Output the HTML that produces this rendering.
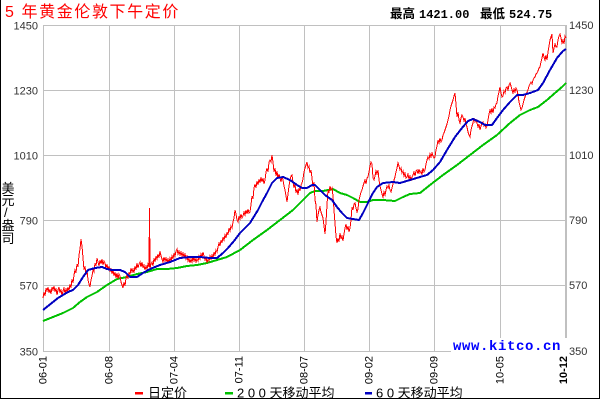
<!DOCTYPE html>
<html><head><meta charset="utf-8"><style>
html,body{margin:0;padding:0;background:#fff;}
svg{display:block;}
text{font-family:"Liberation Sans","WenQuanYi Zen Hei","Noto Sans CJK SC",sans-serif;}
.mono{font-family:"Liberation Mono","WenQuanYi Zen Hei",monospace;}
</style></head><body>
<svg width="600" height="400" viewBox="0 0 600 400" xmlns="http://www.w3.org/2000/svg">
<rect x="0" y="0" width="600" height="400" fill="#fff"/>
<!-- frame -->
<g stroke="#000" stroke-width="1" shape-rendering="crispEdges">
<line x1="0.5" y1="0" x2="0.5" y2="399"/>
<line x1="599.5" y1="0" x2="599.5" y2="399"/>
<line x1="0" y1="398.5" x2="600" y2="398.5"/>
</g>
<!-- title -->
<text x="5" y="17" font-size="16" fill="#ff0000" letter-spacing="1.6">5 年黄金伦敦下午定价</text>
<text x="390" y="18" font-size="12.5" font-weight="bold" fill="#000">最高</text>
<text x="419" y="18" font-size="12" font-weight="bold" class="mono" fill="#000">1421.00</text>
<text x="480" y="18" font-size="12.5" font-weight="bold" fill="#000">最低</text>
<text x="509" y="18" font-size="12" font-weight="bold" class="mono" fill="#000">524.75</text>
<!-- grid -->
<g stroke="#c0c0c0" stroke-width="1" shape-rendering="crispEdges" fill="none">
<line x1="43" y1="25.5" x2="566" y2="25.5"/>
<line x1="43" y1="90.5" x2="566" y2="90.5"/>
<line x1="43" y1="155.5" x2="566" y2="155.5"/>
<line x1="43" y1="220.5" x2="566" y2="220.5"/>
<line x1="43" y1="285.5" x2="566" y2="285.5"/>
<line x1="43" y1="351.5" x2="566" y2="351.5"/>
<line x1="43.5" y1="25" x2="43.5" y2="352"/>
<line x1="109.5" y1="25" x2="109.5" y2="352"/>
<line x1="174.5" y1="25" x2="174.5" y2="352"/>
<line x1="239.5" y1="25" x2="239.5" y2="352"/>
<line x1="304.5" y1="25" x2="304.5" y2="352"/>
<line x1="369.5" y1="25" x2="369.5" y2="352"/>
<line x1="434.5" y1="25" x2="434.5" y2="352"/>
<line x1="500.5" y1="25" x2="500.5" y2="352"/>
<line x1="566" y1="25" x2="566" y2="352" stroke-width="2"/>
</g>
<!-- y labels -->
<g font-size="11" fill="#333">
<text x="38" y="29.5" text-anchor="end">1450</text>
<text x="38" y="94.5" text-anchor="end">1230</text>
<text x="38" y="159.5" text-anchor="end">1010</text>
<text x="38" y="224.5" text-anchor="end">790</text>
<text x="38" y="289.5" text-anchor="end">570</text>
<text x="38" y="355.5" text-anchor="end">350</text>
<text x="569" y="29" >1450</text>
<text x="569" y="94">1230</text>
<text x="569" y="159">1010</text>
<text x="569" y="224">790</text>
<text x="569" y="289">570</text>
<text x="569" y="355">350</text>
</g>
<!-- y title -->
<g font-size="13" fill="#000">
<text x="1.5" y="193">美</text>
<text x="1.5" y="205">元</text>
<text x="4" y="217">/</text>
<text x="1.5" y="230">盎</text>
<text x="1.5" y="243">司</text>
</g>
<!-- x labels -->
<g font-size="11" fill="#000">
<text transform="translate(46.5,356) rotate(-90)" text-anchor="end">06-01</text>
<text transform="translate(112.5,356) rotate(-90)" text-anchor="end">06-08</text>
<text transform="translate(177.5,356) rotate(-90)" text-anchor="end">07-04</text>
<text transform="translate(242.5,356) rotate(-90)" text-anchor="end">07-11</text>
<text transform="translate(307.5,356) rotate(-90)" text-anchor="end">08-07</text>
<text transform="translate(372.5,356) rotate(-90)" text-anchor="end">09-02</text>
<text transform="translate(437.5,356) rotate(-90)" text-anchor="end">09-09</text>
<text transform="translate(503.5,356) rotate(-90)" text-anchor="end">10-05</text>
<text transform="translate(567,356) rotate(-90)" text-anchor="end" font-weight="bold">10-12</text>
</g>
<!-- series -->
<polyline fill="none" stroke="#00c000" stroke-width="2" shape-rendering="crispEdges" points="43,321 53,317 63,313 73,308 80,302 87,297 97,292 107,285 117,279 127,277 137,274 147,272 157,269 167,269 177,268 187,266 197,265 207,263 217,260 227,257 240,250 253,240 267,230 280,220 293,210 303,200 310,193 315,191 323,191 333,189 340,193 347,195 353,198 360,202 367,202 373,200 383,200 395,201 403,197 410,194 420,193 430,185 443,175 457,165 470,155 483,145 497,135 510,123 520,115 530,110 538,107 547,100 555,93 562,87 566,83"/>
<polyline fill="none" stroke="#ff0000" stroke-width="1" shape-rendering="crispEdges" points="43,298 44,292 45,296 46,288 47,291 48,287 49,293 50,289 51,294 52,287 53,290 54,286 55,292 56,288 57,295 58,290 59,287 60,293 61,289 62,296 63,291 64,288 65,293 66,289 67,292 68,287 69,291 70,284 71,288 72,279 73,283 74,275 75,270 76,273 77,264 78,267 79,255 80,249 81,239 82,246 83,258 84,270 85,266 86,275 87,270 88,280 89,284 90,287 91,280 92,276 93,270 94,272 95,263 96,266 97,258 98,262 99,266 100,260 101,264 102,259 103,265 104,261 105,263 106,268 107,264 108,270 109,266 110,272 111,268 112,274 113,270 114,276 115,272 116,278 117,273 118,279 119,274 120,276 121,282 122,285 123,288 124,282 125,286 126,278 127,275 128,279 129,272 130,275 131,268 132,272 133,269 134,273 135,266 136,270 137,263 138,268 139,264 140,262 141,267 142,262 143,268 144,265 145,270 146,266 147,269 148,264 149,267 149.5,208 150,268 151,264 152,262 153,266 154,258 155,262 156,256 157,259 158,254 159,258 160,251 161,256 162,259 163,262 164,257 165,261 166,258 167,262 168,259 169,263 170,258 171,261 172,256 173,259 174,253 175,256 176,251 177,249 178,254 179,251 180,255 181,252 182,256 183,253 184,257 185,254 186,259 187,256 188,261 189,258 190,263 191,259 192,262 193,257 194,261 195,258 196,262 197,259 198,261 199,256 200,259 201,254 202,257 203,252 204,256 205,260 206,257 207,263 208,259 209,261 210,256 211,259 212,255 213,258 214,252 215,255 216,250 217,252 218,247 219,243 220,246 221,240 222,243 223,237 224,240 225,235 226,238 227,232 228,235 229,228 230,231 231,226 232,228 233,222 234,218 235,210 236,214 237,220 238,222 239,216 240,219 241,214 242,218 243,216 244,212 245,215 246,210 247,214 248,209 249,213 250,212 251,205 252,196 253,199 254,188 255,184 256,188 257,181 258,185 259,179 260,183 261,177 262,182 263,178 264,184 265,180 266,172 267,168 268,172 269,162 270,160 271,162 272,155 273,162 274,172 275,168 276,176 277,171 278,179 279,174 280,178 281,182 282,176 283,180 284,186 285,190 286,196 287,202 288,194 289,186 290,180 291,176 292,175 293,182 294,188 295,184 296,193 297,189 298,195 299,188 300,191 301,185 302,183 303,179 304,172 305,168 306,165 307,162 308,168 309,166 310,173 311,170 312,178 313,187 314,182 315,200 316,205 317,222 318,215 319,210 320,207 321,212 322,215 323,218 324,226 325,234 326,222 327,205 328,190 329,193 330,186 331,190 332,188 333,196 334,210 335,223 336,236 337,243 338,238 339,242 340,233 341,239 342,236 343,241 344,234 345,228 346,224 347,230 348,226 349,232 350,228 351,220 352,207 353,210 354,204 355,203 356,208 357,212 358,209 359,200 360,196 361,192 362,190 363,186 364,183 365,180 366,184 367,178 368,177 369,172 370,166 371,162 372,164 373,178 374,180 375,176 376,171 377,174 378,170 379,180 380,186 381,190 382,194 383,197 384,192 385,195 386,190 387,186 388,188 389,185 390,190 391,192 392,188 393,184 394,180 395,177 396,172 397,168 398,163 399,166 400,170 401,168 402,173 403,171 404,176 405,173 406,178 407,177 408,174 409,179 410,176 411,180 412,177 413,175 414,172 415,176 416,171 417,170 418,174 419,169 420,173 421,171 422,175 423,168 424,172 425,170 426,164 427,160 428,157 429,159 430,154 431,157 432,153 433,156 434,158 435,157 436,150 437,146 438,140 439,143 440,138 441,142 442,140 443,135 444,133 445,130 446,127 447,124 448,120 449,116 450,110 451,106 452,103 453,100 454,96 455,93 456,104 457,117 458,112 459,120 460,123 461,118 462,115 463,117 464,121 465,118 466,124 467,127 468,132 469,135 470,137 471,130 472,126 473,123 474,118 475,122 476,120 477,123 478,127 479,124 480,130 481,126 482,123 483,122 484,126 485,124 486,128 487,126 488,120 489,114 490,110 491,113 492,108 493,113 494,107 495,108 496,104 497,103 498,96 499,92 500,87 501,93 502,97 503,96 504,91 505,93 506,88 507,87 508,90 509,85 510,83 511,86 512,90 513,93 514,89 515,92 516,88 517,90 518,95 519,102 520,106 521,110 522,108 523,104 524,100 525,97 526,94 527,92 528,90 529,86 530,84 531,82 532,84 533,80 534,78 535,77 536,74 537,73 538,71 539,68 540,67 541,62 542,58 543,53 544,57 545,60 546,55 547,60 548,52 549,46 550,40 551,37 552,34 553,53 554,48 555,44 556,47 557,47 558,40 559,36 560,34 561,38 562,43 563,40 564,44 565,36 566,38"/>
<polyline fill="none" stroke="#0000c0" stroke-width="2" shape-rendering="crispEdges" points="43,310 48,306 53,302 58,298 63,295 68,292 73,290 78,285 83,277 88,270 95,268 102,267 107,269 112,270 120,270 125,272 130,277 137,277 143,273 150,269 160,265 170,262 180,258 190,257 200,257 210,258 217,258 223,253 228,248 234,241 240,233 245,228 250,223 258,210 262,202 267,193 272,183 277,178 283,177 290,180 297,185 302,188 307,188 312,185 315,185 320,190 325,195 332,200 337,207 342,213 347,218 353,219 359,220 363,213 368,203 373,193 377,187 383,183 393,182 400,183 410,180 420,177 427,175 433,170 440,162 447,150 455,137 462,128 468,121 473,119 480,122 485,125 492,125 497,118 503,110 510,102 517,95 523,95 530,93 538,90 543,83 550,70 557,58 563,51 566,49"/>
<!-- watermark -->
<rect x="451" y="338" width="116" height="16" fill="#fff"/>
<text x="453" y="350" font-size="14" font-weight="bold" class="mono" fill="#0000ff" letter-spacing="0.6">www.kitco.cn</text>
<!-- legend -->
<rect x="135" y="392" width="8" height="2.5" fill="#ff0000"/>
<text x="148" y="397.5" font-size="13" fill="#000">日定价</text>
<rect x="225" y="392" width="8" height="2.5" fill="#00c000"/>
<text x="237" y="397.5" font-size="13" fill="#000">2 0 0 天移动平均</text>
<rect x="365" y="392" width="7" height="2.5" fill="#0000c0"/>
<text x="376" y="397.5" font-size="13" fill="#000">6 0 天移动平均</text>
</svg>
</body></html>
